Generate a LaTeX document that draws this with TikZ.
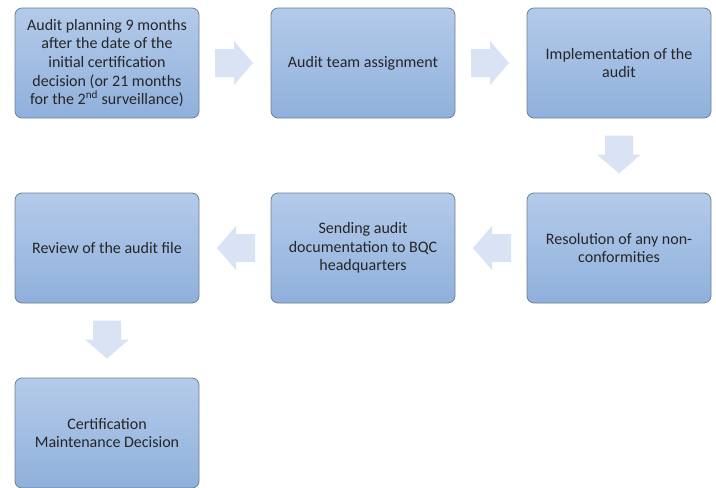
\documentclass[tikz,border=0pt]{standalone}
\usepackage{fontspec}
\setmainfont{Carlito}
\usetikzlibrary{calc}
\definecolor{boxtop}{HTML}{B4CBEA}
\definecolor{boxbot}{HTML}{8FB0DC}
\definecolor{boxline}{HTML}{6F7F90}
\definecolor{arrowfill}{HTML}{DAE3F3}
\definecolor{txt}{HTML}{262626}
\tikzset{
  stepbox/.style={rectangle, rounded corners=7pt, draw=boxline, line width=0.8pt,
    top color=boxtop, bottom color=boxbot, minimum width=184pt, minimum height=110pt,
    align=center, text=txt, font=\fontsize{16}{18.7}\selectfont, inner sep=0pt},
  blockarrow/.style={fill=arrowfill, draw=none},
}
\newcommand{\blockarr}[2]{%
  \fill[blockarrow, shift={(#1)}, rotate=#2]
    (-20,-14) -- (-1,-14) -- (-1,-22) -- (18,0) -- (-1,22) -- (-1,14) -- (-20,14) -- cycle;}
\begin{document}
\begin{tikzpicture}[x=1pt,y=-1pt]
\useasboundingbox (0,0) rectangle (716,488);
\node[stepbox] (b1) at (107,63) {Audit planning 9 months\\after the date of the\\initial certification\\decision (or 21 months\\for the 2\textsuperscript{nd} surveillance)};
\node[stepbox] (b2) at (363,63) {Audit team assignment};
\node[stepbox] (b3) at (619,63) {Implementation of the\\audit};
\node[stepbox] (b6) at (619,248) {Resolution of any non-\\conformities};
\node[stepbox] (b5) at (363,248) {Sending audit\\documentation to BQC\\headquarters};
\node[stepbox] (b4) at (107,248) {Review of the audit file};
\node[stepbox] (b7) at (107,433) {Certification\\Maintenance Decision};
\coordinate (m1) at ($(b1.east)!0.5!(b2.west)$);
\coordinate (m2) at ($(b2.east)!0.5!(b3.west)$);
\coordinate (m3) at ($(b3.south)!0.5!(b6.north)$);
\coordinate (m4) at ($(b6.west)!0.5!(b5.east)$);
\coordinate (m5) at ($(b5.west)!0.5!(b4.east)$);
\coordinate (m6) at ($(b4.south)!0.5!(b7.north)$);
\blockarr{m1}{0}
\blockarr{m2}{0}
\blockarr{m3}{-90}
\blockarr{m4}{180}
\blockarr{m5}{180}
\blockarr{m6}{-90}
\end{tikzpicture}
\end{document}
